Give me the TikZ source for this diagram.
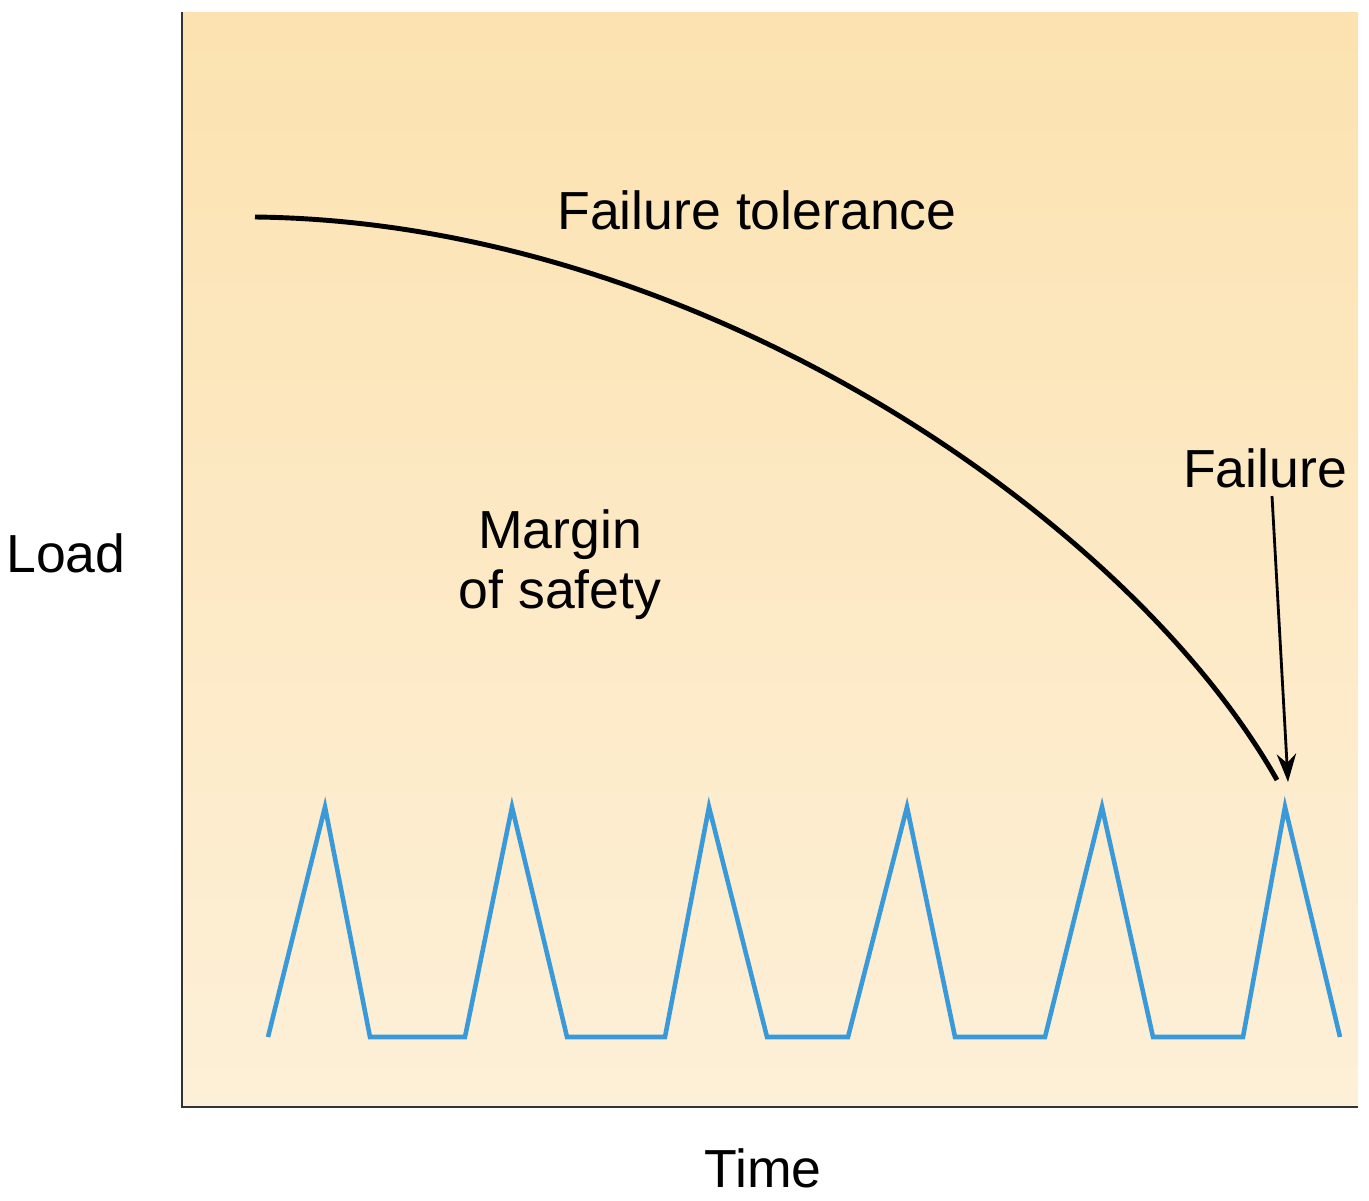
\documentclass[tikz,border=0pt]{standalone}
\usepackage{fontspec}
\setmainfont{Liberation Sans}
\usetikzlibrary{arrows.meta}
\definecolor{bgtop}{HTML}{FCE2B0}
\definecolor{bgbot}{HTML}{FDF0D8}
\definecolor{wave}{HTML}{3A9AD9}
\tikzset{lbl/.style={font=\fontsize{30.5}{34}\selectfont, align=center, inner sep=0pt}}
\begin{document}
\begin{tikzpicture}[x=0.02cm,y=-0.02cm]
\useasboundingbox (0,0) rectangle (1369,1200);
\shade[top color=bgtop,bottom color=bgbot] (182,12) rectangle (1358,1107);
\draw[line width=1.5pt,black!80] (182,12) -- (182,1107) -- (1358,1107);
\coordinate (c0) at (255,217);
\coordinate (c1) at (1277,780);
\draw[line width=2.8pt] (c0) .. controls (700,222) and (1130,520) .. (c1);
\draw[wave,line width=2.6pt,line join=miter] (268,1037) -- (325,807) -- (370,1037) -- (465,1037) -- (512,807) -- (567,1037) -- (665,1037) -- (709,807) -- (767,1037) -- (848,1037) -- (907,807) -- (955,1037) -- (1045,1037) -- (1102,807) -- (1153,1037) -- (1243,1037) -- (1285,807) -- (1340,1037);
\node[lbl] (ft) at (757,210) {Failure tolerance};
\node[lbl] (ld) at (66,553) {Load};
\node[lbl] (ms) at (560,565) {Margin\\of safety};
\node[lbl] (fl) at (1265,468) {Failure};
\node[lbl] (tm) at (763,1168) {Time};
\coordinate (ah) at (1288,782);
\draw[line width=1.6pt,-{Stealth[length=16pt,width=11pt]}] (fl.south) ++(7,8) -- (ah);
\end{tikzpicture}
\end{document}
